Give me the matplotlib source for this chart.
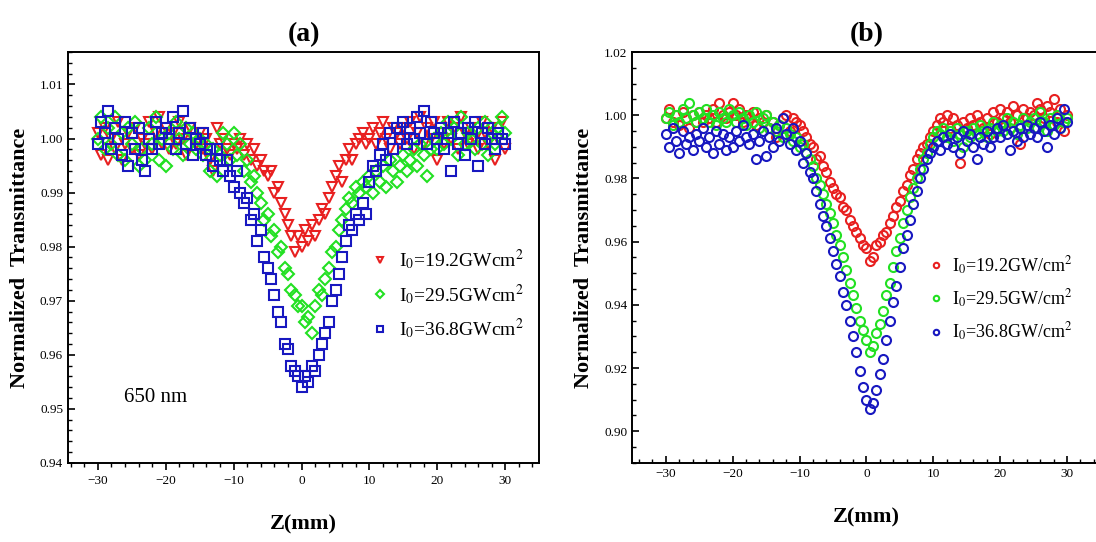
import matplotlib
matplotlib.use('Agg')
import matplotlib.pyplot as plt
import numpy as np

plt.rcParams['font.family'] = ['Liberation Serif', 'DejaVu Serif']
plt.rcParams['mathtext.fontset'] = 'stix'

# z positions (mm), 0.5 mm steps from -30 to 30
z = np.arange(-30, 30.25, 0.5)

# panel (a), 650 nm
a_red = [1.001, 0.997, 1.002, 0.996, 1.000, 0.998, 1.003, 0.996, 0.999, 1.001,
         0.998, 1.002, 0.997, 1.000, 0.999, 1.003, 0.998, 1.001, 1.004, 0.999,
         1.002, 0.998, 1.001, 0.999, 1.003, 1.000, 0.997, 1.002, 1.000, 0.999,
         1.001, 0.998, 1.000, 0.996, 0.994, 1.002, 0.999, 1.000, 0.998, 0.997,
         0.999, 0.998, 1.000, 0.997, 0.999, 0.996, 0.998, 0.995, 0.996, 0.994,
         0.993, 0.994, 0.990, 0.991, 0.988, 0.986, 0.984, 0.982, 0.979, 0.982,
         0.980, 0.983, 0.981, 0.984, 0.982, 0.985, 0.987, 0.986, 0.989, 0.991,
         0.993, 0.995, 0.992, 0.996, 0.998, 0.996, 0.999, 1.000, 1.001, 0.999,
         1.000, 1.002, 0.999, 1.001, 1.003, 1.000, 0.998, 1.002, 1.001, 0.999,
         1.002, 1.000, 1.003, 0.998, 1.001, 1.004, 0.999, 1.002, 1.000, 1.003,
         0.996, 1.001, 0.999, 1.003, 1.000, 1.002, 0.998, 1.004, 1.001, 0.999,
         1.002, 1.000, 0.998, 1.003, 1.001, 0.999, 1.002, 0.996, 1.000, 1.003,
         0.998]
a_green = [1.000, 1.004, 0.998, 1.002, 0.999, 1.004, 0.997, 1.001, 0.996, 1.002,
           0.999, 1.003, 0.995, 0.998, 0.996, 1.002, 0.999, 1.004, 0.996, 1.000,
           0.995, 1.001, 0.998, 1.003, 1.000, 0.997, 1.002, 0.999, 1.001, 0.998,
           1.000, 0.997, 0.999, 0.994, 0.998, 0.993, 0.997, 1.001, 0.999, 0.996,
           1.001, 0.997, 0.999, 0.994, 0.996, 0.992, 0.993, 0.990, 0.988, 0.985,
           0.986, 0.982, 0.983, 0.979, 0.980, 0.976, 0.975, 0.972, 0.971, 0.969,
           0.969, 0.966, 0.967, 0.964, 0.969, 0.972, 0.971, 0.974, 0.976, 0.979,
           0.980, 0.983, 0.985, 0.987, 0.989, 0.988, 0.991, 0.990, 0.992, 0.991,
           0.993, 0.990, 0.994, 0.992, 0.995, 0.991, 0.996, 0.994, 0.992, 0.995,
           0.997, 0.994, 0.996, 0.998, 0.995, 0.999, 0.997, 0.993, 0.998, 1.000,
           0.998, 1.001, 0.999, 1.003, 1.000, 1.002, 0.997, 1.004, 0.999, 1.001,
           1.000, 0.998, 1.002, 0.999, 1.003, 0.997, 1.001, 0.999, 1.002, 1.004,
           1.001]
a_blue = [0.999, 1.003, 1.001, 1.005, 0.998, 1.002, 1.000, 0.997, 1.003, 0.995,
          1.001, 0.998, 1.002, 0.996, 0.994, 1.000, 0.998, 1.003, 0.999, 1.001,
          1.002, 1.000, 1.004, 0.998, 1.001, 1.005, 0.999, 1.002, 0.997, 1.000,
          0.999, 1.001, 0.997, 0.998, 0.995, 0.998, 0.996, 0.994, 0.996, 0.993,
          0.991, 0.994, 0.990, 0.988, 0.989, 0.985, 0.986, 0.981, 0.983, 0.978,
          0.976, 0.974, 0.971, 0.968, 0.966, 0.962, 0.961, 0.958, 0.957, 0.956,
          0.954, 0.956, 0.955, 0.958, 0.957, 0.960, 0.962, 0.964, 0.966, 0.970,
          0.972, 0.975, 0.978, 0.981, 0.984, 0.983, 0.986, 0.985, 0.988, 0.986,
          0.992, 0.995, 0.994, 0.997, 0.999, 0.996, 1.001, 0.998, 1.002, 1.000,
          1.003, 0.999, 1.002, 1.000, 1.004, 1.001, 1.005, 0.999, 1.003, 1.001,
          1.000, 1.002, 0.998, 1.001, 0.994, 1.003, 0.999, 1.001, 0.997, 1.002,
          1.000, 1.003, 0.995, 1.001, 0.999, 1.002, 1.000, 0.998, 1.001, 1.000,
          0.999]

# panel (b)
b_red = [0.999, 1.002, 0.998, 1.000, 0.997, 1.001, 0.999, 0.996, 1.000, 0.998,
         1.001, 0.998, 1.000, 0.999, 1.002, 0.998, 1.004, 1.000, 0.999, 1.001,
         1.004, 1.000, 1.002, 0.998, 1.000, 0.999, 1.001, 0.997, 0.999, 0.998,
         1.000, 0.996, 0.998, 0.993, 0.997, 0.999, 1.000, 0.995, 0.999, 0.998,
         0.997, 0.995, 0.993, 0.991, 0.990, 0.986, 0.987, 0.984, 0.982, 0.979,
         0.977, 0.975, 0.974, 0.971, 0.970, 0.967, 0.965, 0.963, 0.961, 0.959,
         0.958, 0.954, 0.955, 0.959, 0.960, 0.962, 0.963, 0.966, 0.968, 0.971,
         0.973, 0.976, 0.978, 0.981, 0.983, 0.986, 0.988, 0.990, 0.991, 0.993,
         0.995, 0.997, 0.999, 0.998, 1.000, 0.996, 0.999, 0.997, 0.985, 0.998,
         0.996, 0.999, 0.997, 1.000, 0.998, 0.996, 0.999, 0.994, 1.001, 0.998,
         1.002, 0.999, 1.001, 0.998, 1.003, 1.000, 0.991, 1.002, 0.999, 1.001,
         1.000, 1.004, 1.002, 0.999, 1.003, 1.001, 1.005, 0.998, 1.002, 0.995,
         1.000]
b_green = [0.999, 1.001, 0.997, 1.000, 0.998, 1.002, 0.999, 1.004, 1.000, 0.998,
           1.001, 0.999, 1.002, 0.998, 1.000, 0.997, 1.001, 0.999, 0.998, 1.002,
           1.000, 0.998, 1.001, 0.999, 0.997, 1.000, 0.998, 1.001, 0.996, 0.999,
           1.000, 0.996, 0.998, 0.995, 0.997, 0.993, 0.996, 0.994, 0.992, 0.993,
           0.990, 0.991, 0.988, 0.986, 0.984, 0.980, 0.978, 0.975, 0.972, 0.969,
           0.966, 0.962, 0.959, 0.955, 0.951, 0.947, 0.943, 0.939, 0.935, 0.932,
           0.929, 0.925, 0.927, 0.931, 0.934, 0.938, 0.943, 0.947, 0.952, 0.957,
           0.961, 0.966, 0.970, 0.974, 0.977, 0.980, 0.983, 0.986, 0.988, 0.991,
           0.993, 0.995, 0.994, 0.996, 0.993, 0.995, 0.992, 0.996, 0.994, 0.990,
           0.995, 0.993, 0.996, 0.994, 0.997, 0.995, 0.993, 0.996, 0.998, 0.995,
           0.997, 0.995, 0.999, 0.996, 0.998, 0.994, 0.997, 0.999, 0.996, 0.998,
           0.999, 0.996, 1.001, 0.998, 0.995, 0.999, 0.997, 1.000, 0.996, 0.998,
           0.999]
b_blue = [0.994, 0.990, 0.996, 0.992, 0.988, 0.995, 0.991, 0.993, 0.989, 0.994,
          0.992, 0.996, 0.990, 0.993, 0.988, 0.995, 0.991, 0.994, 0.989, 0.993,
          0.990, 0.995, 0.992, 0.997, 0.993, 0.991, 0.994, 0.986, 0.992, 0.995,
          0.987, 0.993, 0.990, 0.996, 0.992, 0.999, 0.994, 0.991, 0.996, 0.989,
          0.992, 0.985, 0.988, 0.982, 0.980, 0.976, 0.972, 0.968, 0.965, 0.961,
          0.957, 0.953, 0.949, 0.944, 0.940, 0.935, 0.930, 0.925, 0.919, 0.914,
          0.910, 0.907, 0.909, 0.913, 0.918, 0.923, 0.929, 0.935, 0.941, 0.946,
          0.952, 0.958, 0.962, 0.967, 0.972, 0.976, 0.980, 0.983, 0.986, 0.988,
          0.990, 0.992, 0.989, 0.993, 0.991, 0.994, 0.990, 0.993, 0.988, 0.995,
          0.992, 0.994, 0.990, 0.986, 0.993, 0.991, 0.995, 0.990, 0.993, 0.996,
          0.993, 0.997, 0.994, 0.989, 0.995, 0.992, 0.996, 0.993, 0.997, 0.994,
          0.996, 0.993, 0.998, 0.995, 0.990, 0.997, 0.994, 0.999, 0.996, 1.002,
          0.998]

labels_a = ['I$_0$=19.2GWcm$^2$', 'I$_0$=29.5GWcm$^2$', 'I$_0$=36.8GWcm$^2$']
labels_b = ['I$_0$=19.2GW/cm$^2$', 'I$_0$=29.5GW/cm$^2$', 'I$_0$=36.8GW/cm$^2$']
colors = ['#e82020', '#22e022', '#1818c0']

fig = plt.figure(figsize=(10.96, 5.42), dpi=100)
ax1 = fig.add_axes([0.062, 0.146, 0.430, 0.758])
ax2 = fig.add_axes([0.577, 0.146, 0.427, 0.758])


def style(ax, xdir, ydir):
    for s in ax.spines.values():
        s.set_linewidth(1.4)
    ax.minorticks_on()
    ax.tick_params(axis='x', which='both', direction=xdir, top=False, labelsize=9.5)
    ax.tick_params(axis='y', which='both', direction=ydir, right=False, labelsize=9.5)
    ax.tick_params(which='major', length=5, width=1.2)
    ax.tick_params(which='minor', length=3, width=1.0)
    ax.set_xlabel('Z(mm)', fontsize=16, fontweight='bold', labelpad=20)
    ax.set_ylabel('Normalized  Transmittance', fontsize=16, fontweight='bold', labelpad=7)


# panel (a)
markers_a = ['v', 'D', 's']
for ys, c, m, lab in zip([a_red, a_green, a_blue], colors, markers_a, labels_a):
    ax1.plot(z, ys, m, mfc='none', mec=c, mew=1.5, ms=6.5, label=lab)
ax1.set_xlim(-34.4, 35)
ax1.set_ylim(0.94, 1.016)
ax1.set_xticks([-30, -20, -10, 0, 10, 20, 30])
ax1.set_yticks([0.94, 0.95, 0.96, 0.97, 0.98, 0.99, 1.00, 1.01])
ax1.yaxis.set_major_formatter(matplotlib.ticker.FormatStrFormatter('%.2f'))
ax1.xaxis.set_minor_locator(matplotlib.ticker.MultipleLocator(5))
ax1.yaxis.set_minor_locator(matplotlib.ticker.MultipleLocator(0.005))
style(ax1, 'out', 'in')
ax1.set_title('(a)', fontsize=20, fontweight='bold', pad=8)
ax1.text(0.185, 0.16, '650 nm', transform=ax1.transAxes, fontsize=15, ha='center', va='center')
ax1.legend(loc='center left', bbox_to_anchor=(0.6, 0.41), frameon=False,
           fontsize=14, markerscale=0.7, handletextpad=0.4, labelspacing=0.5,
           handlelength=1.2)

# panel (b)
for ys, c, lab in zip([b_red, b_green, b_blue], colors, labels_b):
    ax2.plot(z, ys, 'o', mfc='none', mec=c, mew=1.5, ms=6.5, label=lab)
ax2.set_xlim(-35, 35)
ax2.set_ylim(0.89, 1.02)
ax2.set_xticks([-30, -20, -10, 0, 10, 20, 30])
ax2.set_yticks([0.90, 0.92, 0.94, 0.96, 0.98, 1.00, 1.02])
ax2.yaxis.set_major_formatter(matplotlib.ticker.FormatStrFormatter('%.2f'))
ax2.xaxis.set_minor_locator(matplotlib.ticker.MultipleLocator(5))
ax2.yaxis.set_minor_locator(matplotlib.ticker.MultipleLocator(0.01))
style(ax2, 'in', 'in')
ax2.set_title('(b)', fontsize=20, fontweight='bold', pad=8)
ax2.legend(loc='center left', bbox_to_anchor=(0.59, 0.40), frameon=False,
           fontsize=13, markerscale=0.6, handletextpad=0.3, labelspacing=0.6,
           handlelength=1.2)

fig.savefig('out.png', dpi=100)
